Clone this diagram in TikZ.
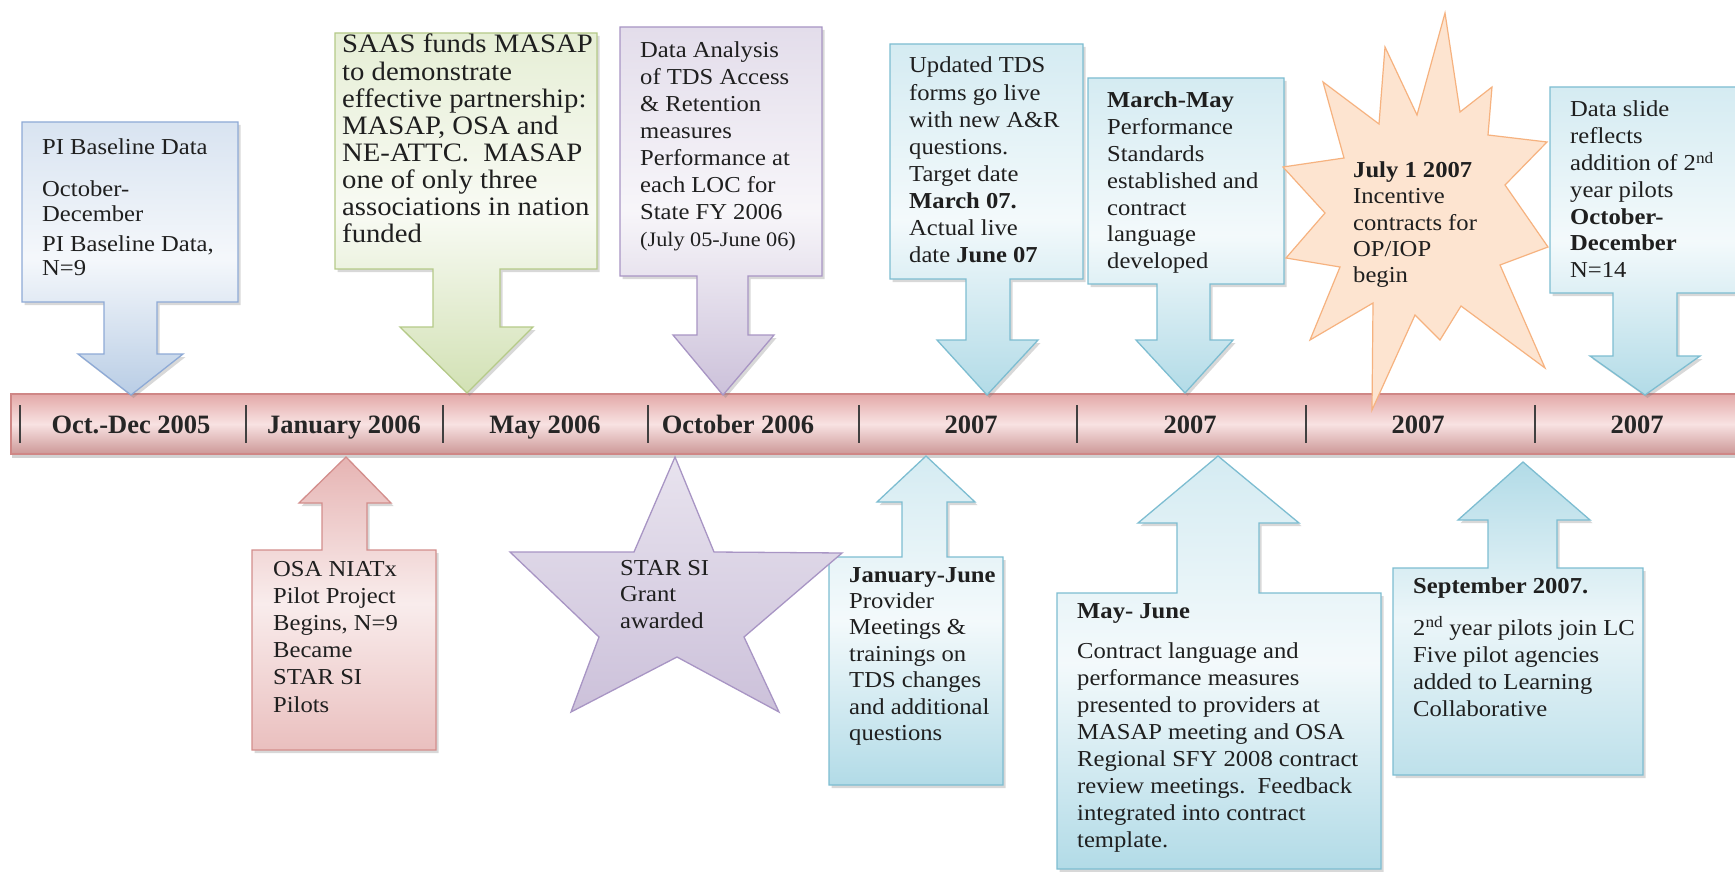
\documentclass[tikz,border=0pt]{standalone}
\usepackage{fontspec}
\setmainfont{Liberation Serif}[FakeStretch=1.08]
\newfontfamily\tlfont{Liberation Serif}
\usetikzlibrary{shadows}
\definecolor{cyanC}{HTML}{B2DBE7}
\definecolor{cyanD}{HTML}{7DBDD1}
\definecolor{periC}{HTML}{B9CDE5}
\definecolor{periD}{HTML}{8EAAD6}
\definecolor{greenC}{HTML}{D2E1B4}
\definecolor{greenD}{HTML}{B5CA88}
\definecolor{purC}{HTML}{CCC1DA}
\definecolor{purD}{HTML}{A895C4}
\definecolor{pinkC}{HTML}{E6B4B3}
\definecolor{pinkD}{HTML}{D38E8C}
\definecolor{peachC}{HTML}{FDE4D0}
\definecolor{peachD}{HTML}{F6B27F}
\definecolor{barA}{HTML}{E3A9A8}
\definecolor{barB}{HTML}{F8E2E2}
\definecolor{barD}{HTML}{CF8786}
\newcommand{\lns}[1]{\parbox[t]{420pt}{\raggedright #1}}
\tikzset{
  callout/.style 2 args={draw=#2, line width=1.3pt, top color=#1!55!white, bottom color=#1, middle color=#1!15!white,
    drop shadow={shadow xshift=2.5pt, shadow yshift=-3pt, opacity=0.3}},
  upcallout/.style 2 args={draw=#2, line width=1.3pt, top color=#1, bottom color=#1!85, middle color=#1!25!white,
    drop shadow={shadow xshift=2.5pt, shadow yshift=-3pt, opacity=0.3}},
  txt/.style={anchor=base west, inner sep=0pt, font=\fontsize{22.8}{26.8}\selectfont, text=black!88},
  tl/.style={anchor=base, inner sep=0pt, font=\tlfont\bfseries\fontsize{26.5}{30}\selectfont, text=black!85},
  divider/.style={line width=1.6pt, draw=black!75}
}
\begin{document}
\begin{tikzpicture}[x=1pt,y=-1pt]
\clip (0,0) rectangle (1735,872);
\fill[white] (0,0) rectangle (1735,872);
% timeline bar
\path[draw=barD, line width=1.2pt, top color=barA, bottom color=barA!90!black, middle color=barB,
  drop shadow={shadow xshift=1pt, shadow yshift=-4pt, opacity=0.35}] (11,394) rectangle (1750,454);
\foreach \x in {20,246,443,648,859,1077,1306,1535} \draw[divider] (\x,405) -- (\x,443);
\node[tl] (l1) at (131,433) {Oct.-Dec 2005};
\node[tl] (l2) at (344,433) {January 2006};
\node[tl] (l3) at (545,433) {May 2006};
\node[tl] (l4) at (738,433) {October 2006};
\node[tl] (l5) at (971,433) {2007};
\node[tl] (l6) at (1190,433) {2007};
\node[tl] (l7) at (1418,433) {2007};
\node[tl] (l8) at (1637,433) {2007};
% top callouts
\path[callout={periC}{periD}] (22,122) -- (238,122) -- (238,302) -- (157,302) -- (157,354) -- (183,354) -- (131,395) -- (78,354) -- (104,354) -- (104,302) -- (22,302) -- cycle;
\path[callout={greenC}{greenD}] (335,33) -- (597,33) -- (597,269) -- (500,269) -- (500,327) -- (533,327) -- (467,393) -- (400,327) -- (433,327) -- (433,269) -- (335,269) -- cycle;
\path[callout={purC}{purD}] (620,27) -- (822,27) -- (822,276) -- (748,276) -- (748,335) -- (774,335) -- (723,395) -- (673,335) -- (697,335) -- (697,276) -- (620,276) -- cycle;
\path[callout={cyanC}{cyanD}] (890,44) -- (1083,44) -- (1083,279) -- (1010,279) -- (1010,340) -- (1038,340) -- (987,395) -- (937,340) -- (966,340) -- (966,279) -- (890,279) -- cycle;
\path[callout={cyanC}{cyanD}] (1088,78) -- (1284,78) -- (1284,284) -- (1210,284) -- (1210,340) -- (1233,340) -- (1185,393) -- (1136,340) -- (1157,340) -- (1157,284) -- (1088,284) -- cycle;
\path[callout={cyanC}{cyanD}] (1550,87) -- (1750,87) -- (1750,293) -- (1677,293) -- (1677,356) -- (1700,356) -- (1645,395) -- (1590,356) -- (1613,356) -- (1613,293) -- (1550,293) -- cycle;
% burst
\path[draw=peachD, line width=1.2pt, fill=peachC]
  (1445,13) -- (1460,112) -- (1492,87) -- (1488,135) -- (1547,142) -- (1505,185) -- (1548,247) -- (1500,265)
  -- (1545,368) -- (1461,306) -- (1440,340) -- (1415,315) -- (1372,410) -- (1373,303) -- (1310,340) -- (1340,267)
  -- (1286,258) -- (1325,213) -- (1283,167) -- (1344,158) -- (1323,82) -- (1379,124) -- (1385,47) -- (1417,115) -- cycle;
% bottom callouts
\path[upcallout={pinkC}{pinkD}] (252,750) -- (436,750) -- (436,550) -- (367,550) -- (367,503) -- (391,503) -- (346,457) -- (299,503) -- (322,503) -- (322,550) -- (252,550) -- cycle;
\path[callout={cyanC}{cyanD}] (829,785) -- (1003,785) -- (1003,557) -- (947,557) -- (947,502) -- (975,502) -- (926,456) -- (877,502) -- (902,502) -- (902,557) -- (829,557) -- cycle;
\path[callout={cyanC}{cyanD}] (1057,869) -- (1381,869) -- (1381,593) -- (1259,593) -- (1259,523) -- (1299,523) -- (1218,456) -- (1138,523) -- (1177,523) -- (1177,593) -- (1057,593) -- cycle;
\path[upcallout={cyanC}{cyanD}] (1393,775) -- (1643,775) -- (1643,568) -- (1557,568) -- (1557,520) -- (1590,520) -- (1523,462) -- (1458,520) -- (1488,520) -- (1488,568) -- (1393,568) -- cycle;
% star
\path[draw=purD, line width=1.3pt, top color=purC!45!white, bottom color=purC]
  (675,457) -- (714,552) -- (842,553) -- (744,637) -- (779,712) -- (677,657) -- (571,712) -- (599,637) -- (510,552) -- (634,552) -- cycle;
% texts
\node[txt, font=\fontsize{22.8}{24.5}\selectfont] (pi) at (42,154) {\lns{PI Baseline Data\\[18pt]October-\\December\\[6pt]PI Baseline Data,\\N=9}};
\node[txt, font=\fontsize{26.6}{27.1}\selectfont] (saas) at (342,53) {\lns{SAAS funds MASAP\\to demonstrate\\effective partnership:\\MASAP, OSA and\\NE-ATTC.\ \ MASAP\\one of only three\\associations in nation\\funded}};
\node[txt, font=\fontsize{22.8}{27}\selectfont] (data) at (640,58) {\lns{Data Analysis\\of TDS Access\\\& Retention\\measures\\Performance at\\each LOC for\\State FY 2006\\{\fontsize{20.6}{27}\selectfont (July 05-June 06)}}};
\node[txt, font=\fontsize{22.8}{27.1}\selectfont] (tds) at (909,73) {\lns{Updated TDS\\forms go live\\with new A\&R\\questions.\\Target date\\\textbf{March 07.}\\Actual live\\date \textbf{June 07}}};
\node[txt] (mm) at (1107,108) {\lns{\textbf{March-May}\\Performance\\Standards\\established and\\contract\\language\\developed}};
\node[txt, font=\fontsize{22.8}{26.5}\selectfont] (july) at (1353,177) {\lns{\textbf{July 1 2007}\\Incentive\\contracts for\\OP/IOP\\begin}};
\node[txt] (slide) at (1570,117) {\lns{Data slide\\reflects\\addition of 2\textsuperscript{nd}\\year pilots\\\textbf{October-}\\\textbf{December}\\N=14}};
\node[txt, font=\fontsize{22.8}{27.2}\selectfont] (osa) at (273,576) {\lns{OSA NIATx\\Pilot Project\\Begins, N=9\\Became\\STAR SI\\Pilots}};
\node[txt, font=\fontsize{22.8}{26.5}\selectfont] (star) at (620,575) {\lns{STAR SI\\Grant\\awarded}};
\node[txt, font=\fontsize{22.8}{26.4}\selectfont] (jj) at (849,582) {\lns{\textbf{January-June}\\Provider\\Meetings \&\\trainings on\\TDS changes\\and additional\\questions}};
\node[txt, font=\fontsize{22.8}{27.1}\selectfont] (mj) at (1077,618) {\lns{\textbf{May- June}\\[13pt]Contract language and\\performance measures\\presented to providers at\\MASAP meeting and OSA\\Regional SFY 2008 contract\\review meetings.\ \ Feedback\\integrated into contract\\template.}};
\node[txt, font=\fontsize{22.8}{27}\selectfont] (sep) at (1413,593) {\lns{\textbf{September 2007.}\\[15pt]2\textsuperscript{nd} year pilots join LC\\Five pilot agencies\\added to Learning\\Collaborative}};
\end{tikzpicture}
\end{document}
